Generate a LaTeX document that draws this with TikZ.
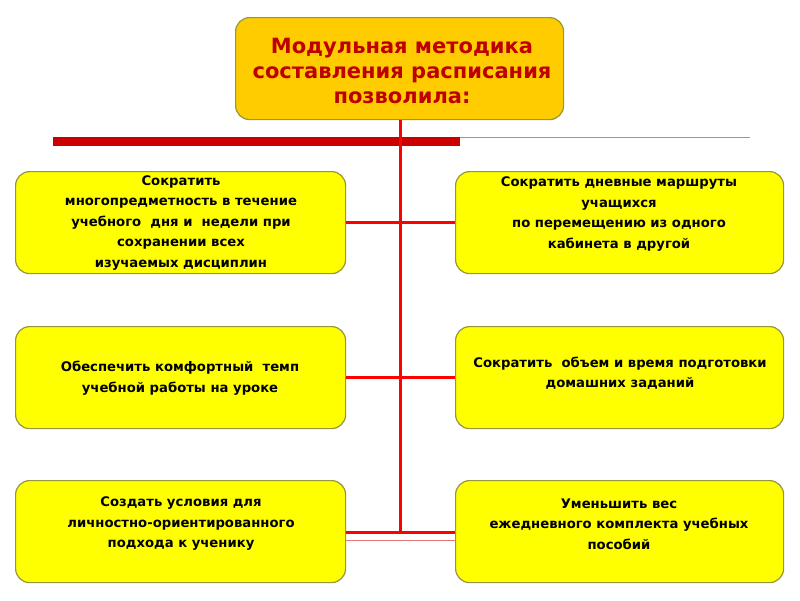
\documentclass[tikz,border=0pt]{standalone}
\usepackage{fontspec}
\setmainfont{DejaVu Sans}
\definecolor{topfill}{RGB}{255,204,0}
\definecolor{boxfill}{RGB}{255,255,0}
\definecolor{boxedge}{RGB}{150,150,60}
\definecolor{titlered}{RGB}{190,0,0}
\definecolor{barred}{RGB}{204,0,0}
\definecolor{linered}{RGB}{255,0,0}
\definecolor{thinpink}{RGB}{225,120,120}
\begin{document}
\begin{tikzpicture}[x=1pt,y=-1pt,
  box/.style={draw=boxedge, line width=1.2pt, rounded corners=14pt, fill=boxfill,
    minimum height=102pt, inner sep=0pt, anchor=north west},
  topbox/.style={box, fill=topfill},
  txt/.style={align=center, inner sep=0pt, text=black,
    font=\bfseries\fontsize{13.2}{20.5}\selectfont},
  titletxt/.style={align=center, inner sep=0pt, text=titlered,
    font=\bfseries\fontsize{21}{25}\selectfont},
  conn/.style={draw=linered, line width=3pt}
]
\useasboundingbox (0,0) rectangle (800,600);

% boxes
\node[topbox, minimum width=328pt] (top) at (235,17) {};
\node[box, minimum width=330pt] (l1) at (15,171) {};
\node[box, minimum width=328pt] (r1) at (455,171) {};
\node[box, minimum width=330pt] (l2) at (15,326) {};
\node[box, minimum width=328pt] (r2) at (455,326) {};
\node[box, minimum width=330pt] (l3) at (15,480) {};
\node[box, minimum width=328pt] (r3) at (455,480) {};

% red bar and thin line
\fill[barred] (53,137) rectangle (460,146);
\coordinate (barend) at (460,137.5);
\coordinate (thinend) at (750,137.5);
\draw[thinpink, line width=1pt] (barend) -- (thinend);

% connectors
\coordinate (vend) at (400,532);
\draw[conn] (top.south -| vend) -- (vend);
\draw[conn] (l1.east) -- (r1.west);
\draw[conn] (l2.east) -- (r2.west);
\draw[conn] (l3.east |- vend) -- (r3.west |- vend);
\draw[thinpink, line width=1pt] ([yshift=-8pt]l3.east |- vend) -- ([yshift=-8pt]r3.west |- vend);

% texts
\node[titletxt] (ttop) at (402,71) {Модульная методика\\составления расписания\\позволила:};
\node[txt] (tl1) at (181,223) {Сократить\\многопредметность в течение\\учебного\ \ дня и\ \ недели при\\сохранении всех\\изучаемых дисциплин};
\node[txt] (tr1) at (619,214) {Сократить дневные маршруты\\учащихся\\по перемещению из одного\\кабинета в другой};
\node[txt] (tl2) at (180,378) {Обеспечить комфортный\ \ темп\\учебной работы на уроке};
\node[txt] (tr2) at (620,373) {Сократить\ \ объем и время подготовки\\домашних заданий};
\node[txt] (tl3) at (181,524) {Создать условия для\\личностно-ориентированного\\подхода к ученику};
\node[txt] (tr3) at (619,524) {Уменьшить вес\\ежедневного комплекта учебных\\пособий};
\end{tikzpicture}
\end{document}
